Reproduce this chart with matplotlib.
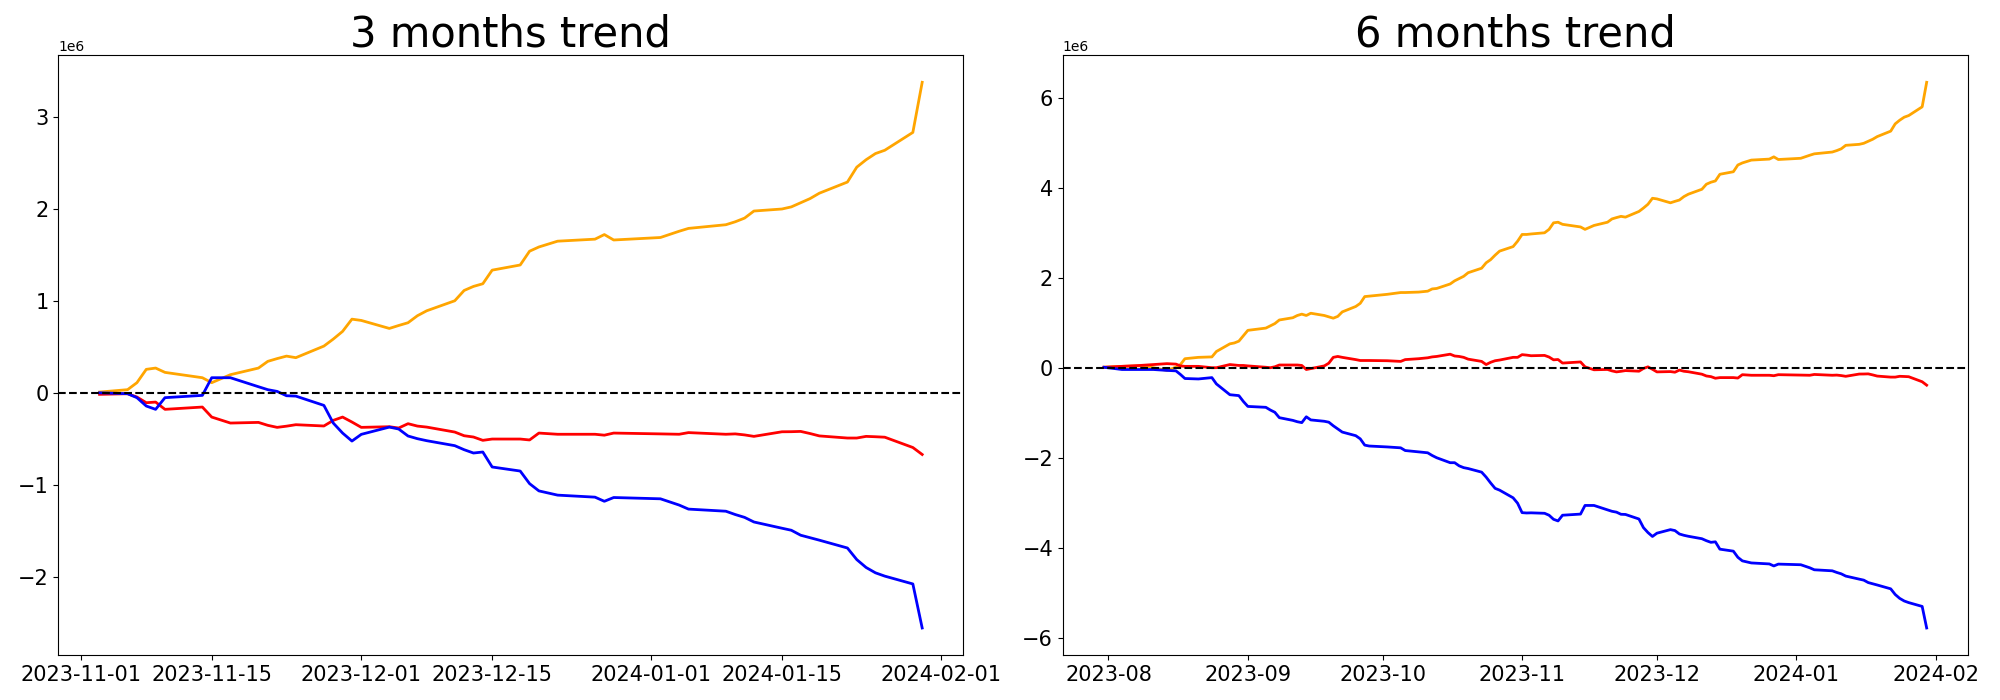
import matplotlib
matplotlib.use("Agg")
import matplotlib.pyplot as plt
import pandas as pd

# 3 months window: cumulative values (in units of 1e6), one entry per trading day
dates_3m = ["2023-11-03", "2023-11-06", "2023-11-07", "2023-11-08", "2023-11-09", "2023-11-10",
            "2023-11-14", "2023-11-15", "2023-11-17", "2023-11-20", "2023-11-21", "2023-11-22",
            "2023-11-23", "2023-11-24", "2023-11-27", "2023-11-28", "2023-11-29", "2023-11-30",
            "2023-12-01", "2023-12-04", "2023-12-05", "2023-12-06", "2023-12-07", "2023-12-08",
            "2023-12-11", "2023-12-12", "2023-12-13", "2023-12-14", "2023-12-15", "2023-12-18",
            "2023-12-19", "2023-12-20", "2023-12-22", "2023-12-26", "2023-12-27", "2023-12-28",
            "2024-01-02", "2024-01-04", "2024-01-05", "2024-01-09", "2024-01-10", "2024-01-11",
            "2024-01-12", "2024-01-15", "2024-01-16", "2024-01-17", "2024-01-18", "2024-01-19",
            "2024-01-22", "2024-01-23", "2024-01-24", "2024-01-25", "2024-01-26", "2024-01-29",
            "2024-01-30"]

orange_3m = [0.011, 0.037, 0.113, 0.258, 0.272, 0.225, 0.167, 0.113, 0.200, 0.272, 0.345, 0.375,
             0.402, 0.385, 0.511, 0.587, 0.671, 0.804, 0.790, 0.703, 0.735, 0.765, 0.841, 0.895,
             1.004, 1.116, 1.160, 1.189, 1.337, 1.393, 1.543, 1.589, 1.652, 1.674, 1.724, 1.665,
             1.692, 1.760, 1.791, 1.831, 1.863, 1.903, 1.980, 2.002, 2.025, 2.070, 2.115, 2.174,
             2.295, 2.457, 2.538, 2.605, 2.641, 2.835, 3.380]

red_3m = [-0.014, -0.007, -0.043, -0.105, -0.098, -0.177, -0.152, -0.261, -0.326, -0.319, -0.351, -0.373,
          -0.360, -0.344, -0.358, -0.297, -0.261, -0.315, -0.373, -0.366, -0.380, -0.333, -0.359, -0.370,
          -0.424, -0.464, -0.478, -0.514, -0.500, -0.500, -0.510, -0.435, -0.448, -0.448, -0.458, -0.435,
          -0.444, -0.448, -0.430, -0.448, -0.444, -0.455, -0.471, -0.421, -0.420, -0.417, -0.440, -0.466,
          -0.489, -0.489, -0.471, -0.475, -0.480, -0.592, -0.668]

blue_3m = [0.003, -0.007, -0.050, -0.141, -0.177, -0.050, -0.025, 0.167, 0.167, 0.069, 0.037, 0.018,
           -0.029, -0.033, -0.134, -0.326, -0.435, -0.522, -0.449, -0.370, -0.391, -0.467, -0.496, -0.518,
           -0.572, -0.616, -0.652, -0.641, -0.804, -0.848, -0.985, -1.064, -1.110, -1.132, -1.177, -1.136,
           -1.150, -1.218, -1.262, -1.285, -1.321, -1.352, -1.402, -1.470, -1.492, -1.546, -1.573, -1.600,
           -1.685, -1.811, -1.897, -1.955, -1.991, -2.076, -2.555]

# 6 months window: Aug - Oct days, then the same days as above
dates_6m_early = ["2023-07-31", "2023-08-04", "2023-08-08", "2023-08-11", "2023-08-14", "2023-08-16",
                  "2023-08-17", "2023-08-18", "2023-08-21", "2023-08-24", "2023-08-25", "2023-08-28",
                  "2023-08-29", "2023-08-30", "2023-08-31", "2023-09-01", "2023-09-05", "2023-09-06",
                  "2023-09-07", "2023-09-08", "2023-09-11", "2023-09-12", "2023-09-13", "2023-09-14",
                  "2023-09-15", "2023-09-18", "2023-09-19", "2023-09-20", "2023-09-21", "2023-09-22",
                  "2023-09-25", "2023-09-26", "2023-09-27", "2023-09-28", "2023-10-02", "2023-10-05",
                  "2023-10-06", "2023-10-09", "2023-10-11", "2023-10-12", "2023-10-13", "2023-10-16",
                  "2023-10-17", "2023-10-18", "2023-10-19", "2023-10-20", "2023-10-23", "2023-10-24",
                  "2023-10-25", "2023-10-26", "2023-10-27", "2023-10-30", "2023-10-31", "2023-11-01",
                  "2023-11-02"]
dates_6m = dates_6m_early + dates_3m

orange_6m = [0.02, 0.04, 0.05, 0.01, -0.05, 0.02, 0.08, 0.21, 0.24, 0.25, 0.37, 0.54,
             0.56, 0.60, 0.72, 0.84, 0.89, 0.94, 0.99, 1.07, 1.12, 1.17, 1.20, 1.17,
             1.22, 1.17, 1.14, 1.11, 1.15, 1.25, 1.37, 1.44, 1.59, 1.60, 1.64, 1.68,
             1.68, 1.69, 1.71, 1.76, 1.77, 1.87, 1.94, 1.99, 2.04, 2.12, 2.22, 2.34,
             2.41, 2.51, 2.60, 2.70, 2.82, 2.97, 2.97,
             2.981, 3.007, 3.083, 3.228, 3.242, 3.195, 3.137, 3.083, 3.170, 3.242, 3.315, 3.345,
             3.372, 3.355, 3.481, 3.557, 3.641, 3.774, 3.760, 3.673, 3.705, 3.735, 3.811, 3.865,
             3.974, 4.086, 4.130, 4.159, 4.307, 4.363, 4.513, 4.559, 4.622, 4.644, 4.694, 4.635,
             4.662, 4.730, 4.761, 4.801, 4.833, 4.873, 4.950, 4.972, 4.995, 5.040, 5.085, 5.144,
             5.265, 5.427, 5.508, 5.575, 5.611, 5.805, 6.350]

red_6m = [0.02, 0.04, 0.06, 0.08, 0.10, 0.09, 0.05, 0.04, 0.04, 0.01, 0.01, 0.08,
          0.07, 0.06, 0.06, 0.05, 0.02, 0.01, 0.03, 0.07, 0.07, 0.07, 0.06, -0.03,
          -0.01, 0.05, 0.11, 0.24, 0.26, 0.24, 0.19, 0.17, 0.17, 0.17, 0.165, 0.15,
          0.19, 0.21, 0.23, 0.25, 0.26, 0.31, 0.27, 0.26, 0.24, 0.20, 0.15, 0.08,
          0.13, 0.165, 0.18, 0.24, 0.24, 0.30, 0.29,
          0.276, 0.283, 0.247, 0.185, 0.192, 0.113, 0.138, 0.029, -0.036, -0.029, -0.061, -0.083,
          -0.070, -0.054, -0.068, -0.007, 0.029, -0.025, -0.083, -0.076, -0.090, -0.043, -0.069, -0.080,
          -0.134, -0.174, -0.188, -0.224, -0.210, -0.210, -0.220, -0.145, -0.158, -0.158, -0.168, -0.145,
          -0.154, -0.158, -0.140, -0.158, -0.154, -0.165, -0.181, -0.131, -0.130, -0.127, -0.150, -0.176,
          -0.199, -0.199, -0.181, -0.185, -0.190, -0.302, -0.378]

blue_6m = [0.02, -0.03, -0.03, -0.03, -0.05, -0.06, -0.14, -0.23, -0.24, -0.21, -0.35, -0.59,
           -0.60, -0.61, -0.74, -0.85, -0.87, -0.93, -0.98, -1.10, -1.16, -1.19, -1.21, -1.08,
           -1.15, -1.18, -1.20, -1.28, -1.35, -1.42, -1.50, -1.57, -1.71, -1.73, -1.75, -1.77,
           -1.83, -1.86, -1.88, -1.94, -1.99, -2.10, -2.10, -2.17, -2.21, -2.23, -2.31, -2.42,
           -2.55, -2.67, -2.71, -2.88, -3.00, -3.21, -3.217,
           -3.214, -3.224, -3.267, -3.358, -3.394, -3.267, -3.242, -3.050, -3.050, -3.148, -3.180, -3.199,
           -3.246, -3.250, -3.351, -3.543, -3.652, -3.739, -3.666, -3.587, -3.608, -3.684, -3.713, -3.735,
           -3.789, -3.833, -3.869, -3.858, -4.021, -4.065, -4.202, -4.281, -4.327, -4.349, -4.394, -4.353,
           -4.367, -4.435, -4.479, -4.502, -4.538, -4.569, -4.619, -4.687, -4.709, -4.763, -4.790, -4.817,
           -4.902, -5.028, -5.114, -5.172, -5.208, -5.293, -5.772]


def draw_trend(ax, dates, orange, red, blue, title):
    x = pd.to_datetime(dates)
    scale = 1e6
    ax.plot(x, [v * scale for v in orange], color="orange", linewidth=2)
    ax.plot(x, [v * scale for v in red], color="red", linewidth=2)
    ax.plot(x, [v * scale for v in blue], color="blue", linewidth=2)
    ax.axhline(0, color="black", linestyle="--", linewidth=1.5)
    ax.set_title(title, fontsize=30)
    ax.tick_params(labelsize=15)


fig, (ax1, ax2) = plt.subplots(1, 2, figsize=(20, 7), dpi=100)
draw_trend(ax1, dates_3m, orange_3m, red_3m, blue_3m, "3 months trend")
draw_trend(ax2, dates_6m, orange_6m, red_6m, blue_6m, "6 months trend")
fig.subplots_adjust(left=0.0292, right=0.9839, bottom=0.0639, top=0.9214, wspace=0.11)
fig.savefig("out.png")
